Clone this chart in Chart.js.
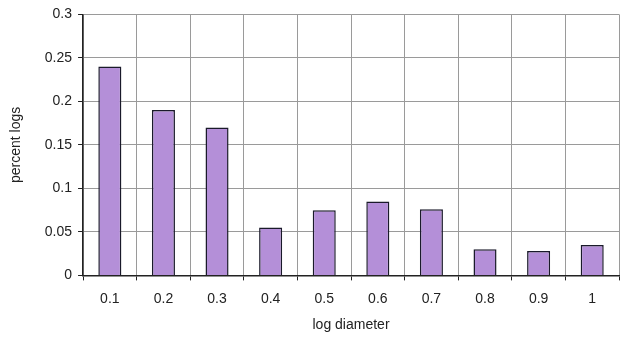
<!DOCTYPE html>
<html>
<head>
<meta charset="utf-8">
<script src="https://cdn.jsdelivr.net/npm/chart.js@4/dist/chart.umd.min.js"></script>
<style>
  html, body { margin: 0; padding: 0; background: #fff; }
  #wrap { width: 621px; height: 337px; }
</style>
</head>
<body>
<div id="wrap"><canvas id="logChart" width="621" height="337"></canvas></div>
<script>
// log diameter classes and share of logs in each
const diameters = ['0.1', '0.2', '0.3', '0.4', '0.5', '0.6', '0.7', '0.8', '0.9', '1'];
const percentLogs = [0.24, 0.19, 0.17, 0.055, 0.075, 0.085, 0.076, 0.03, 0.028, 0.035];
const yTicks = [0, 0.05, 0.1, 0.15, 0.2, 0.25, 0.3];

const tickFont = { family: 'Liberation Sans, Arial, sans-serif', size: 14 };

const ctx = document.getElementById('logChart').getContext('2d');
new Chart(ctx, {
    type: 'bar',
    data: {
        labels: diameters,
        datasets: [{
            data: percentLogs,
            backgroundColor: '#b48fd8',
            borderColor: '#1a1a2a',
            borderWidth: 1.5,
            categoryPercentage: 1,
            barPercentage: 0.43
        }]
    },
    options: {
        responsive: false,
        animation: false,
        layout: { padding: { top: 14, right: 2, bottom: 3, left: 8 } },
        plugins: {
            legend: { display: false },
            tooltip: { enabled: false }
        },
        scales: {
            x: {
                grid: {
                    offset: true,
                    color: '#9a9a9a',
                    tickColor: '#222',
                    tickLength: 5
                },
                border: { color: '#222', width: 1.5 },
                ticks: { color: '#222', font: tickFont, padding: 10 },
                title: {
                    display: true,
                    text: 'log diameter',
                    color: '#222',
                    font: tickFont,
                    padding: { top: 0, bottom: 0 }
                }
            },
            y: {
                min: 0,
                max: 0.3,
                afterBuildTicks: axis => {
                    axis.ticks = yTicks.map(v => ({ value: v }));
                },
                grid: {
                    color: '#9a9a9a',
                    tickColor: '#222',
                    tickLength: 5
                },
                border: { color: '#222', width: 1.5 },
                ticks: {
                    color: '#222',
                    font: tickFont,
                    padding: 6,
                    callback: v => String(+v.toFixed(2))
                },
                title: {
                    display: true,
                    text: 'percent logs',
                    color: '#222',
                    font: tickFont,
                    padding: { top: 0, bottom: 14 }
                }
            }
        }
    }
});
</script>
</body>
</html>
